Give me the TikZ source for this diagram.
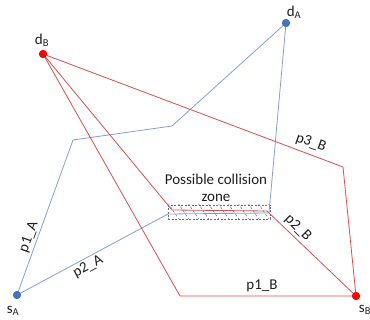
\documentclass[tikz,border=0pt]{standalone}
\usepackage{fontspec}
\setmainfont{Carlito}
\begin{document}
\begin{tikzpicture}[x=1pt,y=-1pt,
  redline/.style={draw={rgb,255:red,214;green,80;blue,80}, line width=0.8pt},
  blueline/.style={draw={rgb,255:red,130;green,160;blue,210}, line width=0.8pt},
  reddot/.style={circle, fill=red, inner sep=0pt, minimum size=8pt},
  bluedot/.style={circle, fill={rgb,255:red,68;green,114;blue,196}, inner sep=0pt, minimum size=8pt},
  lbl/.style={font=\fontsize{15}{17}\selectfont, text={rgb,255:red,30;green,30;blue,30}, inner sep=1pt},
  zoneframe/.style={draw={rgb,255:red,90;green,105;blue,140}, dash pattern=on 2pt off 1.5pt, line width=0.6pt},
  hatch/.style={draw={rgb,255:red,90;green,105;blue,140}, dash pattern=on 2.5pt off 2pt, line width=0.5pt}
]
\useasboundingbox (0,0) rectangle (370,320);

% points
\node[reddot]  (dB) at (43,54) {};
\node[bluedot] (dA) at (286,23) {};
\node[bluedot] (sA) at (17,295) {};
\node[reddot]  (sB) at (356,296) {};

\coordinate (a1) at (73,140);
\coordinate (a2) at (172,126);
\coordinate (a3) at (168,214);
\coordinate (a4) at (269,213);

\coordinate (b1) at (180,296);
\coordinate (b2) at (172,210);
\coordinate (b3) at (267,211);
\coordinate (b4) at (343,167);

% zone
\coordinate (zl) at (168,205);
\coordinate (zr) at (270,219);
\begin{scope}
  \clip (zl) rectangle (zr);
  \foreach \i in {0,...,12} {
    \draw[hatch] (158+10*\i,203) -- (170+10*\i,221);
  }
\end{scope}
\draw[zoneframe] (zl) rectangle (zr);

% blue paths
\draw[blueline] (sA.center) -- (a1) -- (a2) -- (dA.center);
\draw[blueline] (sA.center) -- (a3) -- (a4) -- (dA.center);

% red paths
\draw[redline] (dB.center) -- (b1) -- (sB.center);
\draw[redline] (dB.center) -- (b2) -- (b3) -- (sB.center);
\draw[redline] (dB.center) -- (b4) -- (sB.center);

% redraw dots on top
\node[reddot]  at (dB) {};
\node[bluedot] at (dA) {};
\node[bluedot] at (sA) {};
\node[reddot]  at (sB) {};

% labels
\node[lbl] (ldB) at (42,40) {d\textsubscript{B}};
\node[lbl] (ldA) at (294,12) {d\textsubscript{A}};
\node[lbl] (lsA) at (13,311) {s\textsubscript{A}};
\node[lbl] (lsB) at (365,310) {s\textsubscript{B}};

\node[lbl, rotate=70] (p1A) at (29,237) {p1\_A};
\node[lbl, rotate=28] (p2A) at (88,267) {p2\_A};
\node[lbl] (p1B) at (262,286) {p1\_B};
\node[lbl, rotate=-45] (p2B) at (298,228) {p2\_B};
\node[lbl, rotate=-20] (p3B) at (311,143) {p3\_B};

\node[lbl, align=center, font=\fontsize{15}{17}\selectfont] (zone) at (216,188) {Possible collision\\zone};
\end{tikzpicture}
\end{document}
